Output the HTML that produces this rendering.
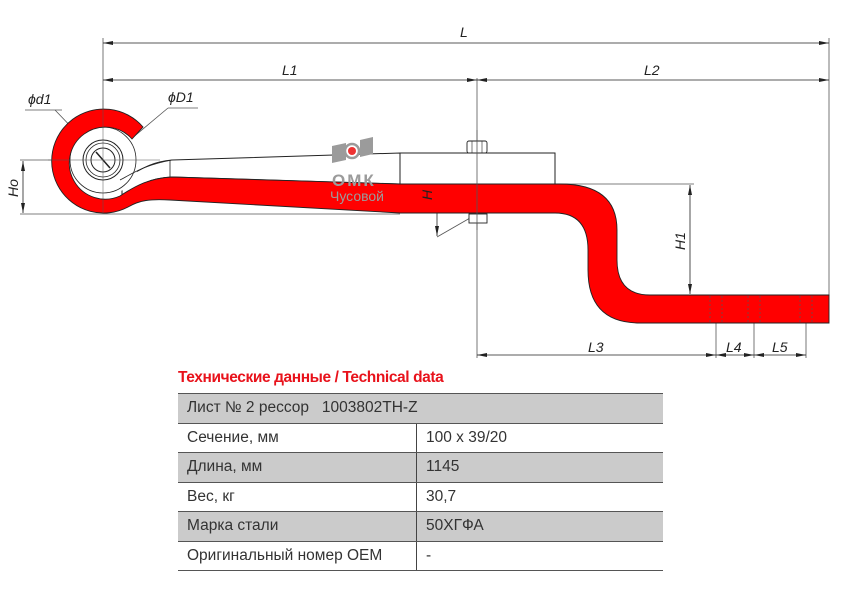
<!DOCTYPE html>
<html><head><meta charset="utf-8"><style>
html,body{margin:0;padding:0;background:#fff;}
body{width:842px;height:595px;overflow:hidden;position:relative;font-family:"Liberation Sans","Noto Sans CJK SC",sans-serif;}
svg{position:absolute;left:0;top:0;}
.t{position:absolute;left:178px;top:369px;color:#e8121b;font-weight:bold;font-size:15.5px;letter-spacing:-0.4px;}
table{position:absolute;left:178px;top:393px;width:485px;border-collapse:collapse;font-size:15.5px;color:#333;}
td{height:28.5px;padding:0 0 0 9px;border-bottom:1.5px solid #555;}
tr.g td{background:#cbcbcb;}
td.c{border-right:1px solid #444;width:229px;}
tr:first-child td{border-top:1.5px solid #555;}
</style></head><body>
<svg width="842" height="595" viewBox="0 0 842 595">
<defs><marker id="a" viewBox="0 0 10 4" refX="10" refY="2" markerWidth="10" markerHeight="4" orient="auto-start-reverse" markerUnits="userSpaceOnUse"><path d="M0,0L10,2L0,4z" fill="#222"/></marker></defs>
<g stroke="#555" stroke-width="0.8" fill="none">
<line x1="103" y1="38" x2="103" y2="160"/>
<line x1="829" y1="38" x2="829" y2="296"/>
<line x1="477" y1="78" x2="477" y2="358"/>
<line x1="20" y1="160" x2="103" y2="160"/>
<line x1="20" y1="214" x2="400" y2="214"/>
<line x1="548" y1="184" x2="694" y2="184"/>
<line x1="716" y1="300" x2="716" y2="358"/>
<line x1="754" y1="300" x2="754" y2="358"/>
<line x1="806" y1="300" x2="806" y2="358"/>
<line x1="437" y1="184" x2="477" y2="155"/>
<line x1="437" y1="237" x2="477" y2="214"/>
<line x1="25" y1="110" x2="62" y2="110"/><line x1="55" y1="110" x2="100" y2="157"/>
<line x1="168" y1="108" x2="198" y2="108"/><line x1="168" y1="108" x2="106" y2="160"/>
</g>
<g stroke="#222" stroke-width="0.8" marker-start="url(#a)" marker-end="url(#a)">
<line x1="103" y1="43" x2="829" y2="43"/>
<line x1="103" y1="80" x2="477" y2="80"/>
<line x1="477" y1="80" x2="829" y2="80"/>
<line x1="477" y1="355" x2="716" y2="355"/>
<line x1="716" y1="355" x2="754" y2="355"/>
<line x1="754" y1="355" x2="806" y2="355"/>
<line x1="23" y1="161" x2="23" y2="213"/>
<line x1="690" y1="185" x2="690" y2="294"/>
<line x1="437" y1="185" x2="437" y2="236"/>
</g>
<!-- upper leaf -->
<path d="M122,180 C140,170 150,162 172,160 L400,153 L400,184 L172,177 C150,178 135,186 122,196 Z" fill="#fff" stroke="#222" stroke-width="1"/>
<line x1="170" y1="160" x2="170" y2="177" stroke="#222" stroke-width="0.8"/>
<!-- clamp -->
<rect x="400" y="153" width="155" height="31" fill="#fff" stroke="#222" stroke-width="1"/>
<!-- inner eye -->
<circle cx="103" cy="160" r="36" fill="#fff"/>
<circle cx="103" cy="160" r="33" fill="#fff" stroke="#222" stroke-width="0.8"/>
<path d="M120,180 C135,172 145,165 172,160" fill="none" stroke="#222" stroke-width="0.8"/>
<!-- red -->
<path d="M143,127 A52,52 0 1,0 128,207 C140,200 150,199 170,200 L400,213 L555,213 Q588,213 588,250 L588,270 Q588,323 640,323 L829,323 L829,295 L650,295 Q617,295 617,260 L617,230 Q617,184 560,184 L400,184 L172,177 C150,178 135,186 120,196 A36,36 0 1,1 132,139 Z" fill="#ff0000" stroke="#222" stroke-width="0.9"/>
<circle cx="103" cy="160" r="20" fill="#fff" stroke="#222" stroke-width="1"/>
<circle cx="103" cy="160" r="17" fill="none" stroke="#222" stroke-width="0.8"/>
<circle cx="103" cy="160" r="12" fill="none" stroke="#222" stroke-width="1"/>
<line x1="96" y1="152" x2="110" y2="168" stroke="#222" stroke-width="1.5"/>
<line x1="48" y1="160" x2="160" y2="160" stroke="#555" stroke-width="0.5"/>
<line x1="103" y1="100" x2="103" y2="214" stroke="#555" stroke-width="0.5"/>
<!-- bolt -->
<rect x="467" y="141" width="20" height="12" rx="2" fill="#fff" stroke="#222" stroke-width="0.9"/>
<line x1="472" y1="141" x2="472" y2="153" stroke="#222" stroke-width="0.6"/><line x1="482" y1="141" x2="482" y2="153" stroke="#222" stroke-width="0.6"/>
<rect x="469" y="214" width="18" height="9" fill="#fff" stroke="#222" stroke-width="0.9"/>
<line x1="477" y1="130" x2="477" y2="230" stroke="#555" stroke-width="0.8"/>
<!-- dashed holes -->
<g stroke="#555" stroke-width="0.7" stroke-dasharray="2,2">
<line x1="710" y1="296" x2="710" y2="323"/><line x1="722" y1="296" x2="722" y2="323"/>
<line x1="748" y1="296" x2="748" y2="323"/><line x1="760" y1="296" x2="760" y2="323"/>
<line x1="800" y1="296" x2="800" y2="323"/><line x1="812" y1="296" x2="812" y2="323"/>
</g>
<!-- logo -->
<path d="M332,146 L346,143 L346,160 L332,163 Z" fill="#9b9b9b"/>
<path d="M360,140 L373,137 L373,154 L360,157 Z" fill="#9b9b9b"/>
<circle cx="352" cy="151" r="7" fill="#fff" stroke="#9b9b9b" stroke-width="2.5"/>
<circle cx="352" cy="151" r="4" fill="#e33"/>
<text x="332" y="186" font-size="17" font-weight="bold" fill="#9b9b9b" letter-spacing="2">ОМК</text>
<text x="330" y="201" font-size="14" fill="#9b9b9b">Чусовой</text>
<!-- labels -->
<g font-size="14" font-style="italic" fill="#222">
<text x="460" y="37">L</text>
<text x="282" y="75">L1</text>
<text x="644" y="75">L2</text>
<text x="588" y="352">L3</text>
<text x="726" y="352">L4</text>
<text x="772" y="352">L5</text>
<text x="28" y="104">ϕd1</text>
<text x="168" y="102">ϕD1</text>
<text transform="translate(18,197) rotate(-90)">Ho</text>
<text transform="translate(685,250) rotate(-90)">H1</text>
<text transform="translate(432,200) rotate(-90)">H</text>
</g>
</svg>
<div class="t">Технические данные / Technical data</div>
<table>
<tr class="g"><td colspan="2">Лист № 2 рессор &nbsp;&nbsp;1003802TH-Z</td></tr>
<tr><td class="c">Сечение, мм</td><td>100 x 39/20</td></tr>
<tr class="g"><td class="c">Длина, мм</td><td>1145</td></tr>
<tr><td class="c">Вес, кг</td><td>30,7</td></tr>
<tr class="g"><td class="c">Марка стали</td><td>50ХГФА</td></tr>
<tr><td class="c">Оригинальный номер OEM</td><td>-</td></tr>
</table>
</body></html>
